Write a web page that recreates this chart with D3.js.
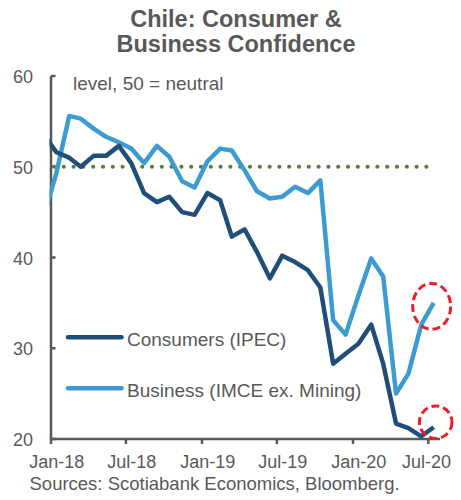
<!DOCTYPE html>
<html>
<head>
<meta charset="utf-8">
<script src="https://cdn.jsdelivr.net/npm/d3@7"></script>
<style>
  html, body { margin: 0; padding: 0; background: #fff; }
  svg { display: block; font-family: "Liberation Sans", Arial, sans-serif; }
</style>
</head>
<body>
<svg id="chart" width="461" height="500"></svg>
<script>
// Monthly observations, Dec-17 through Jul-20 (Dec-17 sits just left of the axis and is clipped)
const months = [
  "2017-12","2018-01","2018-02","2018-03","2018-04","2018-05","2018-06","2018-07","2018-08","2018-09","2018-10","2018-11","2018-12",
  "2019-01","2019-02","2019-03","2019-04","2019-05","2019-06","2019-07","2019-08","2019-09","2019-10","2019-11","2019-12",
  "2020-01","2020-02","2020-03","2020-04","2020-05","2020-06","2020-07"
];
// Consumer confidence (IPEC)
const consumers = [
  53.6, 51.6, 51.0, 50.0, 51.2, 51.2, 52.3, 50.4, 47.1, 46.1, 46.7, 45.0, 44.7,
  47.1, 46.3, 42.3, 43.1, 40.6, 37.7, 40.2, 39.5, 38.6, 36.7, 28.3, 29.4,
  30.5, 32.6, 28.3, 21.7, 21.2, 20.3, 21.3
];
// Business confidence (IMCE ex. Mining)
const business = [
  44.5, 49.3, 55.6, 55.3, 54.2, 53.3, 52.7, 52.0, 50.4, 52.3, 51.1, 48.4, 47.7,
  50.6, 52.0, 51.8, 49.6, 47.3, 46.5, 46.7, 47.8, 47.1, 48.5, 33.1, 31.5,
  35.8, 39.9, 37.9, 25.0, 27.2, 32.6, 35.0
];
const neutralLevel = 50;
const yTicks = [20, 30, 40, 50, 60];
const xTickDates = ["2018-01-01","2018-07-01","2019-01-01","2019-07-01","2020-01-01","2020-07-01"];
const xTickLabels = ["Jan-18","Jul-18","Jan-19","Jul-19","Jan-20","Jul-20"];
const seriesNames = ["Consumers (IPEC)", "Business (IMCE ex. Mining)"];

const textColor = "#595959";
const darkBlue = "#1f4e79";
const lightBlue = "#3c9bd0";
const green = "#538135";
const red = "#e8202a";

const svg = d3.select("#chart");
const parse = d3.utcParse("%Y-%m-%d");
// monthly readings are placed mid-month
const pointDate = m => parse(m + "-14");

const x = d3.scaleUtc()
  .domain([parse("2018-01-01"), parse("2020-07-01")])
  .range([51, 428.3]);
const y = d3.scaleLinear().domain([20, 60]).range([439, 76]);

// Title
const title = svg.append("text")
  .attr("x", 236).attr("text-anchor", "middle")
  .attr("fill", textColor).attr("font-weight", "bold").attr("font-size", 23.5);
title.append("tspan").attr("x", 236).attr("y", 27).text("Chile: Consumer &");
title.append("tspan").attr("x", 236).attr("y", 52).text("Business Confidence");

// Clip for the plotted series
svg.append("defs").append("clipPath").attr("id", "plot-clip")
  .append("rect").attr("x", 49.5).attr("y", 0).attr("width", 400).attr("height", 500);

// Axes
const axisG = svg.append("g").attr("stroke", textColor).attr("stroke-width", 2.5).attr("fill", "none");
axisG.append("line").attr("x1", 51).attr("x2", 51).attr("y1", y(60)).attr("y2", y(20));
axisG.append("line").attr("x1", 51).attr("x2", 440).attr("y1", y(20)).attr("y2", y(20));
axisG.selectAll(".yt").data(yTicks).join("line")
  .attr("x1", 51).attr("x2", 55.5).attr("y1", d => y(d)).attr("y2", d => y(d));
axisG.selectAll(".xt").data(xTickDates).join("line")
  .attr("x1", d => x(parse(d))).attr("x2", d => x(parse(d)))
  .attr("y1", y(20)).attr("y2", y(20) + 5);

// Y tick labels
svg.selectAll(".ylab").data(yTicks).join("text")
  .attr("x", 33).attr("y", d => y(d) + 7)
  .attr("text-anchor", "end").attr("fill", textColor).attr("font-size", 18)
  .text(d => d);

// X tick labels, centred mid-month and kept inside the frame
svg.selectAll(".xlab").data(xTickDates).join("text")
  .attr("y", 468).attr("text-anchor", "middle").attr("fill", textColor).attr("font-size", 18)
  .text((d, i) => xTickLabels[i])
  .attr("x", function(d) {
    const cx = x(d3.utcDay.offset(parse(d), 14));
    const w = this.getComputedTextLength();
    return Math.min(cx, 451 - w / 2);
  });

// Unit note
svg.append("text").attr("x", 73).attr("y", 90)
  .attr("fill", textColor).attr("font-size", 19).text("level, 50 = neutral");

// Neutral reference line
svg.append("line")
  .attr("x1", x(parse("2018-01-01"))).attr("x2", x(parse("2020-07-01")) + 1)
  .attr("y1", y(neutralLevel)).attr("y2", y(neutralLevel))
  .attr("stroke", green).attr("stroke-width", 4.2)
  .attr("stroke-linecap", "round").attr("stroke-dasharray", "0 9.8")
  .attr("stroke-dashoffset", 6.8);

// Series lines
const line = d3.line()
  .x((d, i) => x(pointDate(months[i])))
  .y(d => y(d));
const plot = svg.append("g").attr("clip-path", "url(#plot-clip)");
[[business, lightBlue], [consumers, darkBlue]].forEach(([vals, col]) => {
  plot.append("path").datum(vals)
    .attr("d", line).attr("fill", "none").attr("stroke", col)
    .attr("stroke-width", 4.5).attr("stroke-linejoin", "round");
});

// Highlight of the latest readings
const last = months.length - 1;
const lx = x(pointDate(months[last]));
svg.append("ellipse")
  .attr("cx", lx - 2).attr("cy", y(business[last]) + 3.5).attr("rx", 19).attr("ry", 23)
  .attr("fill", "none").attr("stroke", red).attr("stroke-width", 3).attr("stroke-dasharray", "8 4");
svg.append("ellipse")
  .attr("cx", lx + 2).attr("cy", y(consumers[last]) - 5).attr("rx", 16.3).attr("ry", 16.3)
  .attr("fill", "none").attr("stroke", red).attr("stroke-width", 3).attr("stroke-dasharray", "8 4");

// Legend
const legend = svg.append("g");
[[seriesNames[0], darkBlue, 337.3], [seriesNames[1], lightBlue, 388.3]].forEach(([name, col, ly]) => {
  legend.append("line").attr("x1", 68).attr("x2", 121.5).attr("y1", ly).attr("y2", ly)
    .attr("stroke", col).attr("stroke-width", 4.5).attr("stroke-linecap", "round");
  legend.append("text").attr("x", 127).attr("y", ly + 9)
    .attr("fill", textColor).attr("font-size", 19).text(name);
});

// Source note
svg.append("text").attr("x", 29.5).attr("y", 490)
  .attr("fill", textColor).attr("font-size", 18.5)
  .text("Sources: Scotiabank Economics, Bloomberg.");
</script>
</body>
</html>
